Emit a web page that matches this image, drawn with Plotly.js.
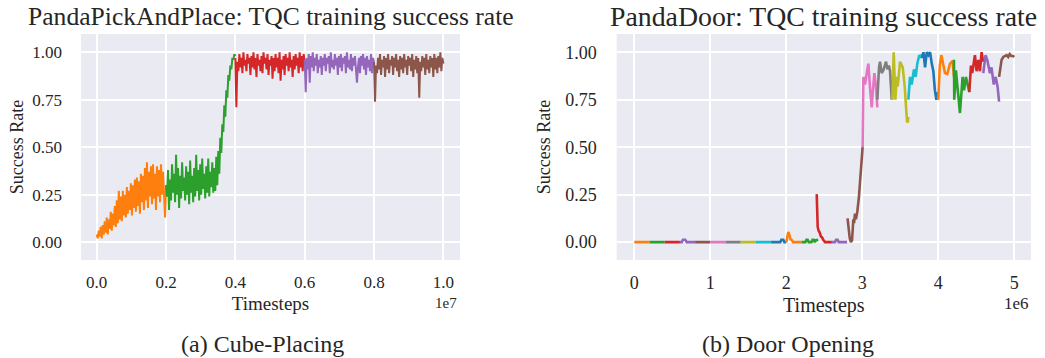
<!DOCTYPE html>
<html><head><meta charset="utf-8">
<script src="https://cdn.plot.ly/plotly-3.0.1.min.js"></script>
<style>html,body{margin:0;padding:0;background:#fff;}#chart{width:1045px;height:358px;}</style>
</head><body><div id="chart"></div>
<script>
// matplotlib tab10 colour cycle
const palette = ['#1f77b4','#ff7f0e','#2ca02c','#d62728','#9467bd','#8c564b','#e377c2','#7f7f7f','#bcbd22','#17becf'];

// ---- Panel (a): PandaPickAndPlace, timesteps in units of 1e7 ----
const pickSegmentStarts = [0, 0.2, 0.4, 0.6, 0.8];
const pickSegmentLength = 0.2;
const pickOrange = [0.04,0.02,0.06,0.03,0.08,0.02,0.09,0.04,0.11,0.05,
  0.13,0.04,0.12,0.07,0.16,0.06,0.15,0.09,0.19,0.08,
  0.22,0.10,0.27,0.12,0.24,0.11,0.27,0.14,0.25,0.13,
  0.29,0.15,0.27,0.17,0.31,0.14,0.30,0.18,0.33,0.16,
  0.34,0.19,0.32,0.15,0.36,0.21,0.35,0.17,0.39,0.22,
  0.42,0.18,0.37,0.24,0.40,0.20,0.41,0.23,0.36,0.17,
  0.40,0.24,0.38,0.21,0.41,0.25,0.37,0.23,0.13,0.30];
const pickGreen = [0.30,0.24,0.38,0.17,0.33,0.22,0.41,0.26,0.36,0.21,
  0.46,0.25,0.39,0.18,0.35,0.23,0.42,0.27,0.34,0.22,
  0.40,0.25,0.37,0.20,0.43,0.26,0.35,0.21,0.39,0.24,
  0.46,0.27,0.38,0.22,0.41,0.25,0.44,0.28,0.36,0.23,
  0.40,0.26,0.44,0.24,0.37,0.29,0.42,0.26,0.39,0.27,
  0.45,0.30,0.48,0.36,0.55,0.47,0.62,0.58,0.72,0.66,
  0.80,0.76,0.88,0.85,0.93,0.91,0.97,0.96,0.99,0.98];
const pickRed = [0.97,0.71,0.95,0.90,0.99,0.92,0.97,0.89,1.00,0.93,
  0.96,0.90,0.99,0.94,0.97,0.88,0.98,0.92,1.00,0.91,
  0.97,0.87,0.99,0.93,0.96,0.90,0.98,0.89,1.00,0.94,
  0.97,0.91,0.99,0.88,0.96,0.93,0.98,0.86,0.97,0.90,
  0.99,0.92,0.97,0.89,1.00,0.85,0.96,0.91,0.98,0.88,
  0.99,0.93,0.97,0.90,1.00,0.92,0.96,0.87,0.98,0.91,
  0.99,0.93,0.97,0.89,1.00,0.92,0.98,0.90,0.99,0.95];
const pickPurple = [0.96,0.79,0.97,0.91,0.99,0.84,0.98,0.92,1.00,0.90,
  0.97,0.93,0.99,0.89,0.96,0.92,0.98,0.88,0.97,0.93,
  0.99,0.90,0.97,0.94,0.98,0.89,1.00,0.92,0.96,0.91,
  0.99,0.93,0.97,0.88,0.98,0.92,0.99,0.90,0.97,0.94,
  0.98,0.89,1.00,0.92,0.96,0.91,0.99,0.90,0.97,0.93,
  0.98,0.90,0.84,0.92,0.97,0.89,0.98,0.93,0.99,0.91,
  0.97,0.88,0.98,0.92,0.96,0.90,0.99,0.89,0.97,0.95];
const pickBrown = [0.95,0.74,0.93,0.89,0.97,0.91,0.99,0.88,0.96,0.92,
  0.98,0.87,0.97,0.91,0.99,0.89,0.96,0.93,0.98,0.88,
  0.97,0.92,0.99,0.90,0.96,0.87,0.98,0.91,0.97,0.89,
  0.99,0.92,0.96,0.88,0.98,0.93,0.97,0.90,0.99,0.87,
  0.96,0.91,0.98,0.89,0.97,0.76,0.95,0.90,0.98,0.92,
  0.97,0.88,0.99,0.91,0.96,0.89,0.98,0.92,0.97,0.87,
  0.99,0.91,0.97,0.89,0.98,0.92,1.00,0.90,0.97,0.94];
const pickSegments = [pickOrange, pickGreen, pickRed, pickPurple, pickBrown];
const pickColorIndex = [1, 2, 3, 4, 5];

// ---- Panel (b): PandaDoor, timesteps in units of 1e6 ----
const doorTimes = [
  [0, 0.2], [0.2, 0.4], [0.4, 0.6],
  [0.6, 0.625, 0.64, 0.67, 0.69, 0.8],
  [0.8, 1.0], [1.0, 1.2], [1.2, 1.4], [1.4, 1.6], [1.6, 1.8],
  [1.8, 1.92, 1.935, 1.96, 1.975, 2.0],
  [2.0, 2.005, 2.015, 2.026, 2.04, 2.055, 2.07, 2.09, 2.2],
  [2.2, 2.25, 2.265, 2.28, 2.295, 2.33, 2.345, 2.36, 2.375, 2.39, 2.42],
  [2.40, 2.405, 2.413, 2.425, 2.44, 2.455, 2.47, 2.49, 2.51, 2.6],
  [2.6, 2.64, 2.655, 2.675, 2.69, 2.8],
  [2.806, 2.82, 2.835, 2.85, 2.865, 2.873, 2.882, 2.892, 2.903, 2.916, 2.934, 2.956, 2.978, 3.004],
  [3.004, 3.014, 3.025, 3.036, 3.058, 3.08, 3.10, 3.124, 3.14, 3.159, 3.18, 3.198],
  [3.198, 3.21, 3.22, 3.233, 3.255, 3.277, 3.295, 3.312, 3.33, 3.35, 3.365, 3.387],
  [3.396, 3.413, 3.435, 3.453, 3.466, 3.497, 3.532, 3.558, 3.584, 3.59, 3.6, 3.605],
  [3.606, 3.628, 3.65, 3.68, 3.702, 3.724, 3.75, 3.77, 3.786],
  [3.786, 3.804, 3.826, 3.848, 3.87, 3.892, 3.914, 3.935, 3.955, 3.975, 3.99],
  [4.0, 4.02, 4.04, 4.066, 4.088, 4.118, 4.154, 4.189, 4.206],
  [4.206, 4.21, 4.232, 4.26, 4.285, 4.32, 4.338, 4.364, 4.408],
  [4.408, 4.43, 4.447, 4.482, 4.504, 4.526, 4.548, 4.57, 4.59],
  [4.592, 4.622, 4.644, 4.68, 4.70, 4.73, 4.755, 4.78, 4.80],
  [4.80, 4.82, 4.833, 4.855, 4.88, 4.90, 4.92, 4.94, 4.96, 4.985, 5.0]
];
const doorRates = [
  [0, 0], [0, 0], [0, 0],
  [0, 0, 0.013, 0.013, 0, 0],
  [0, 0], [0, 0], [0, 0], [0, 0], [0, 0],
  [0, 0, 0.012, 0.012, 0, 0],
  [0, 0.01, 0.02, 0.054, 0.04, 0.015, 0.012, 0, 0],
  [0, 0, 0.012, 0.012, 0, 0, 0.012, 0.012, 0, 0.01, 0.012],
  [0.253, 0.15, 0.08, 0.06, 0.05, 0.03, 0.025, 0.01, 0, 0],
  [0, 0, 0.012, 0.012, 0, 0],
  [0.125, 0.05, 0.02, 0.0, 0.01, 0.06, 0.12, 0.10, 0.15, 0.12, 0.16, 0.24, 0.36, 0.50],
  [0.50, 0.87, 0.85, 0.83, 0.89, 0.94, 0.82, 0.71, 0.80, 0.89, 0.82, 0.71],
  [0.75, 0.88, 0.92, 0.95, 0.89, 0.905, 0.93, 0.95, 0.91, 0.93, 0.90, 0.75],
  [0.75, 1.0, 0.75, 0.87, 0.82, 0.95, 0.92, 0.82, 0.66, 0.63, 0.635, 0.66],
  [0.75, 0.87, 0.83, 0.91, 0.87, 0.94, 0.985, 0.97, 0.99],
  [0.97, 1.0, 0.92, 1.0, 0.985, 1.0, 0.94, 0.90, 0.80, 0.75, 0.79],
  [0.75, 0.93, 0.985, 0.93, 0.89, 0.885, 0.94, 0.955, 0.87],
  [0.96, 0.75, 0.905, 0.78, 0.68, 0.87, 0.80, 0.87, 0.79],
  [0.79, 0.93, 0.89, 0.985, 0.90, 0.96, 0.90, 1.0, 0.95],
  [0.89, 0.985, 0.96, 0.89, 0.92, 0.83, 0.87, 0.82, 0.74],
  [0.87, 0.93, 0.96, 0.975, 0.98, 0.985, 0.975, 0.99, 0.98, 0.98, 0.975]
];

const yTicks = [0, 0.25, 0.5, 0.75, 1.0];
const pickXTicks = [0, 0.2, 0.4, 0.6, 0.8, 1.0];
const doorXTicks = [0, 1, 2, 3, 4, 5];
const titles = ['PandaPickAndPlace: TQC training success rate', 'PandaDoor: TQC training success rate'];
const captions = ['(a) Cube-Placing', '(b) Door Opening'];
const xLabel = 'Timesteps', yLabel = 'Success Rate';
const exponents = ['1e7', '1e6'];

const FONT = 'Liberation Serif, Times New Roman, serif';
const TXT = '#262626';

const traces = [];
pickSegments.forEach((vals, s) => {
  const n = vals.length;
  const xs = vals.map((_, i) => pickSegmentStarts[s] + i * pickSegmentLength / (n - 1));
  traces.push({x: xs, y: vals, type: 'scatter', mode: 'lines', xaxis: 'x', yaxis: 'y',
    line: {color: palette[pickColorIndex[s]], width: 2}, hoverinfo: 'skip', showlegend: false});
});
doorTimes.forEach((ts, s) => {
  traces.push({x: ts, y: doorRates[s], type: 'scatter', mode: 'lines', xaxis: 'x2', yaxis: 'y2',
    line: {color: palette[(s + 1) % 10], width: 2.6}, hoverinfo: 'skip', showlegend: false});
});

function xAxis(domain, range, ticks, fmt, tickSize, titleSize) {
  return {domain: domain, range: range, tickvals: ticks, tickformat: fmt, showgrid: true, gridcolor: '#ffffff', gridwidth: 1.8,
    zeroline: false, showline: false, ticks: '', ticklabelstandoff: 10, tickfont: {family: FONT, size: tickSize, color: TXT},
    title: {text: xLabel, font: {family: FONT, size: titleSize, color: TXT}, standoff: 5}, fixedrange: true};
}
function yAxis(domain, anchor, tickSize, tickStandoff, titleStandoff) {
  return {domain: domain, range: [-0.094, 1.096], tickvals: yTicks, tickformat: '.2f', showgrid: true, gridcolor: '#ffffff', gridwidth: 1.8,
    zeroline: false, showline: false, ticks: '', ticklabelstandoff: tickStandoff, anchor: anchor, tickfont: {family: FONT, size: tickSize, color: TXT},
    title: {text: yLabel, font: {family: FONT, size: 18, color: TXT}, standoff: titleStandoff}, fixedrange: true};
}

const W = 1045, H = 358;
const yDom = [1 - 260 / H, 1 - 34 / H];
const xDom1 = [81 / W, 460 / W], xDom2 = [616.7 / W, 1031 / W];

const ann = (text, x, y, size, xanchor) => ({text: text, x: x, y: y, xref: 'paper', yref: 'paper', showarrow: false,
  xanchor: xanchor || 'center', yanchor: 'middle', font: {family: FONT, size: size, color: TXT}});

const layout = {
  width: W, height: H, autosize: false, margin: {l: 0, r: 0, t: 0, b: 0},
  paper_bgcolor: '#ffffff', plot_bgcolor: '#EAEAF2', showlegend: false,
  xaxis: Object.assign(xAxis(xDom1, [-0.0453, 1.048], pickXTicks, '.1f', 17, 19), {anchor: 'y'}),
  yaxis: yAxis(yDom, 'x', 17, 18, 3),
  xaxis2: Object.assign(xAxis(xDom2, [-0.232, 5.22], doorXTicks, 'd', 18, 20), {anchor: 'y2'}),
  yaxis2: yAxis(yDom, 'x2', 18, 19, 9),
  annotations: [
    ann(titles[0], (xDom1[0] + xDom1[1]) / 2, 1 - 17 / H, 25.6),
    ann(titles[1], 823 / W, 1 - 17 / H, 27.8),
    ann(captions[0], 262 / W, 1 - 344 / H, 24),
    ann(captions[1], 788 / W, 1 - 344 / H, 24),
    ann(exponents[0], 459 / W, 1 - 303 / H, 15, 'right'),
    ann(exponents[1], 1031 / W, 1 - 303 / H, 17, 'right')
  ]
};

Plotly.newPlot('chart', traces, layout, {displayModeBar: false, staticPlot: true});
</script></body></html>
